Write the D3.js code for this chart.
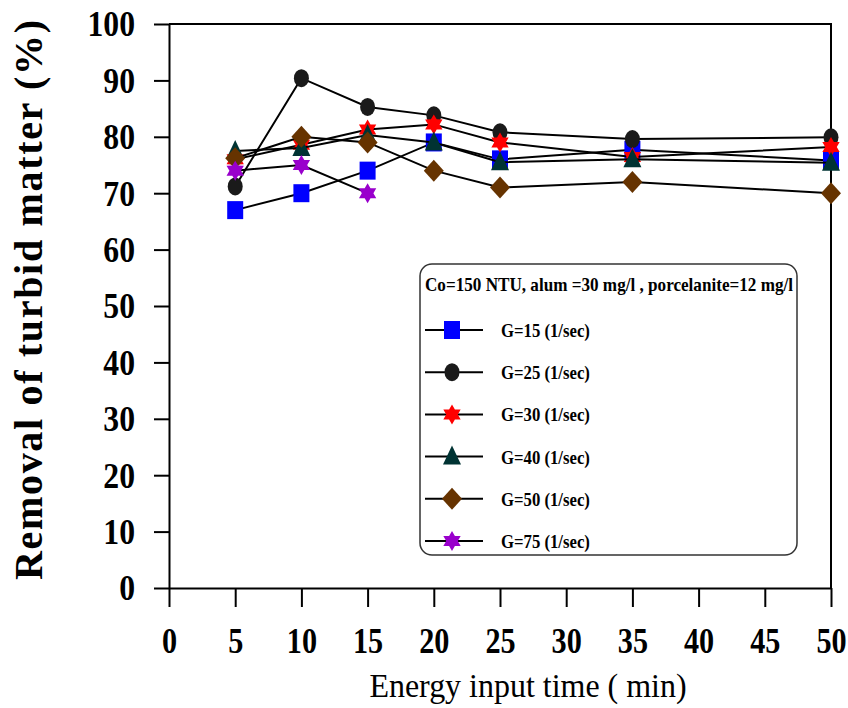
<!DOCTYPE html>
<html>
<head>
<meta charset="utf-8">
<script src="https://cdn.jsdelivr.net/npm/d3@7"></script>
<style>
  body { margin: 0; background: #fff; }
  svg { display: block; }
  text { font-family: 'Liberation Serif', 'Times New Roman', serif; }
</style>
</head>
<body>
<div id="container"></div>
<script>
// data
const times = [5, 10, 15, 20, 25, 35, 50];
const g15 = [67, 70, 74, 79, 76, 77.7, 75.8];
const g25 = [71.2, 90.4, 85.3, 83.8, 80.8, 79.6, 79.9];
const g30 = [76, 78.6, 81.3, 82.2, 79, 76.4, 78.2];
const g40 = [77.5, 78, 80.3, 79, 75.5, 76, 75.4];
const g50 = [76.2, 80, 79, 74, 71, 72, 70];
const g75 = [74, 75, 70];
const seriesNames = ['G=15 (1/sec)', 'G=25 (1/sec)', 'G=30 (1/sec)', 'G=40 (1/sec)', 'G=50 (1/sec)', 'G=75 (1/sec)'];
const xTicks = [0, 5, 10, 15, 20, 25, 30, 35, 40, 45, 50];
const yTicks = [0, 10, 20, 30, 40, 50, 60, 70, 80, 90, 100];
const legendTitle = 'Co=150 NTU, alum =30 mg/l , porcelanite=12 mg/l';

const svgWidth = 848;
const svgHeight = 708;
const plotLeft = 169, plotRight = 831, plotTop = 24, plotBottom = 588;

const svg = d3.select('#container')
  .append('svg')
  .attr('width', svgWidth)
  .attr('height', svgHeight);

const x = d3.scaleLinear().domain([0, 50]).range([plotLeft, plotRight]);
const y = d3.scaleLinear().domain([0, 100]).range([plotBottom, plotTop]);

// squeeze text horizontally like the condensed font in the picture
const squeeze = (sel, k) => sel.each(function () {
  const len = this.getComputedTextLength();
  d3.select(this).attr('textLength', len * k).attr('lengthAdjust', 'spacingAndGlyphs');
});

// frame (top + right)
svg.append('path')
  .attr('d', `M${plotLeft},${plotTop}H${plotRight}V${plotBottom}`)
  .attr('fill', 'none')
  .attr('stroke', '#000')
  .attr('stroke-width', 2);

// axes
const xAxis = svg.append('g')
  .attr('transform', `translate(0,${plotBottom})`)
  .call(d3.axisBottom(x).tickValues(xTicks).tickSize(19).tickSizeOuter(0).tickPadding(20));
const yAxis = svg.append('g')
  .attr('transform', `translate(${plotLeft},0)`)
  .call(d3.axisLeft(y).tickValues(yTicks).tickSize(15).tickSizeOuter(0).tickPadding(19));

[xAxis, yAxis].forEach(ax => {
  ax.select('.domain').attr('stroke-width', 2);
  ax.selectAll('.tick line').attr('stroke-width', 2);
  ax.selectAll('.tick text')
    .attr('font-family', "'Liberation Serif', serif")
    .attr('font-size', 36)
    .attr('font-weight', 'bold')
    .attr('fill', '#000');
});
// x labels are centred on the tick, so a plain horizontal scale keeps them in place
xAxis.selectAll('.tick text').attr('dy', '0.72em').attr('transform', 'scale(0.84,1)');
yAxis.selectAll('.tick text').attr('dy', '0.33em').call(squeeze, 0.88);

// axis titles
svg.append('text')
  .attr('x', 528)
  .attr('y', 697)
  .attr('text-anchor', 'middle')
  .attr('font-size', 34)
  .text('Energy input time ( min)')
  .call(squeeze, 0.94);

svg.append('text')
  .attr('transform', 'translate(42,300) rotate(-90)')
  .attr('text-anchor', 'middle')
  .attr('font-size', 40)
  .attr('font-weight', 'bold')
  .attr('textLength', 560)
  .attr('lengthAdjust', 'spacing')
  .text('Removal of turbid matter (%)');

// markers
const hexStar = r => {
  const pts = [];
  for (let i = 0; i < 12; i++) {
    const a = -Math.PI / 2 + i * Math.PI / 6;
    const rr = i % 2 === 0 ? r : r * 0.58;
    pts.push([rr * Math.cos(a), rr * Math.sin(a)]);
  }
  return 'M' + pts.map(p => p.join(',')).join('L') + 'Z';
};
const shapes = [
  { d: 'M-8,-9H8V9H-8Z', fill: '#0000ff' },
  { d: 'M-7.5,0A7.5,9 0 1,0 7.5,0A7.5,9 0 1,0 -7.5,0Z', fill: '#1a1a1a' },
  { d: hexStar(10), fill: '#ff0000' },
  { d: 'M0,-11L9,8H-9Z', fill: '#003333' },
  { d: 'M0,-11L10,0L0,11L-10,0Z', fill: '#663300' },
  { d: hexStar(10), fill: '#9900cc' }
];

const allSeries = [g15, g25, g30, g40, g50, g75];
const line = d3.line().x(d => x(d[0])).y(d => y(d[1]));

allSeries.forEach((vals, si) => {
  const pts = vals.map((v, i) => [times[i], v]);
  const g = svg.append('g');
  g.append('path')
    .attr('d', line(pts))
    .attr('fill', 'none')
    .attr('stroke', '#000')
    .attr('stroke-width', 2);
  g.selectAll('path.mk')
    .data(pts)
    .enter()
    .append('path')
    .attr('class', 'mk')
    .attr('d', shapes[si].d)
    .attr('fill', shapes[si].fill)
    .attr('transform', d => `translate(${x(d[0])},${y(d[1])})`);
});

// legend
const legend = svg.append('g');
legend.append('rect')
  .attr('x', 420).attr('y', 264)
  .attr('width', 377).attr('height', 291)
  .attr('rx', 12)
  .attr('fill', '#fff')
  .attr('stroke', '#333')
  .attr('stroke-width', 1.5);
legend.append('text')
  .attr('x', 425).attr('y', 291)
  .attr('font-size', 19)
  .attr('font-weight', 'bold')
  .text(legendTitle)
  .attr('textLength', 368)
  .attr('lengthAdjust', 'spacingAndGlyphs');

seriesNames.forEach((name, i) => {
  const cy = 330 + i * 42.2;
  legend.append('line')
    .attr('x1', 425).attr('x2', 483)
    .attr('y1', cy).attr('y2', cy)
    .attr('stroke', '#000').attr('stroke-width', 2);
  legend.append('path')
    .attr('d', shapes[i].d)
    .attr('fill', shapes[i].fill)
    .attr('transform', `translate(452,${cy})`);
  legend.append('text')
    .attr('x', 501).attr('y', cy + 7)
    .attr('font-size', 19)
    .attr('font-weight', 'bold')
    .text(name)
    .call(squeeze, 0.88);
});
</script>
</body>
</html>
